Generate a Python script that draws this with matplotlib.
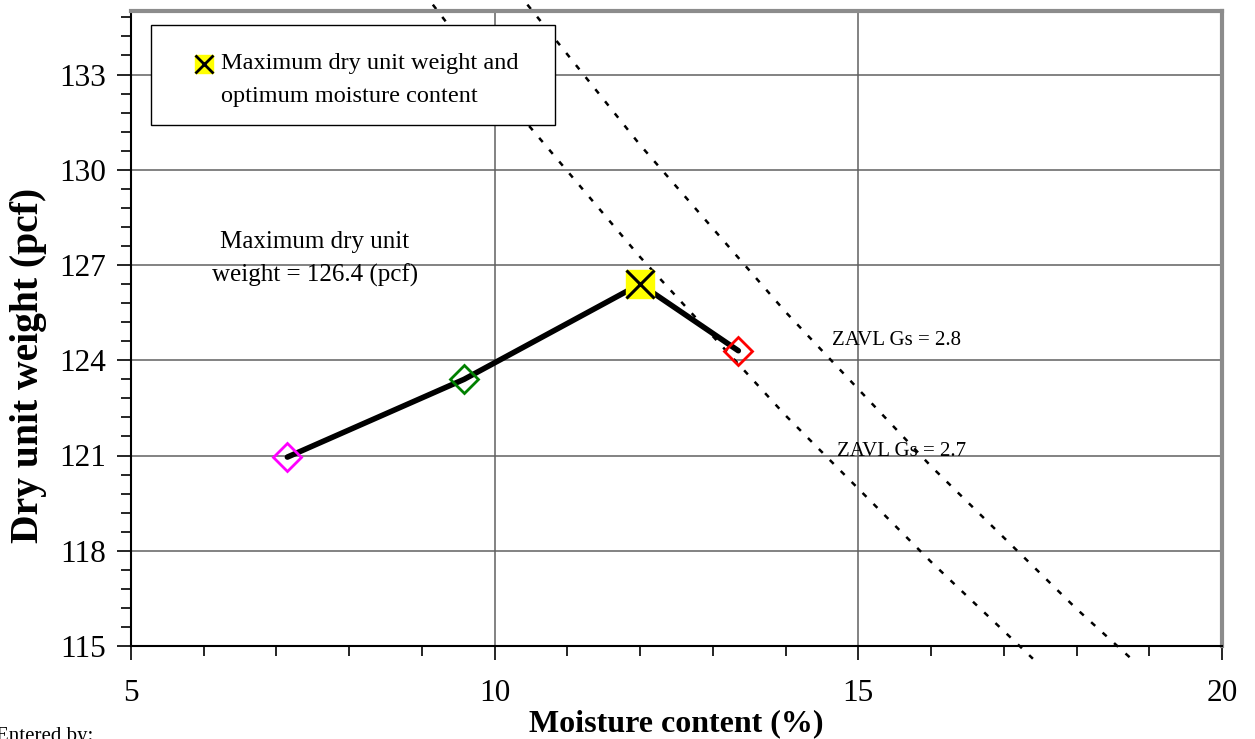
import numpy as np
import matplotlib.pyplot as plt
from matplotlib.patches import Rectangle

plt.rcParams['font.family'] = ['Liberation Serif', 'DejaVu Serif']

# compaction test points (moisture %, dry unit weight pcf)
moisture = [7.15, 9.58, 12.0, 13.35]
dry_weight = [120.95, 123.4, 126.4, 124.3]
point_colors = ['#FF00FF', '#008000', None, '#FF0000']

max_moisture = 12.0
max_dry = 126.4

# zero air voids lines
zavl27_w = [9.15, 10.0, 12.0, 14.0, 16.0, 17.4]
zavl27_y = [135.2, 132.66, 127.25, 122.26, 117.65, 114.6]
zavl28_w = [10.45, 12.0, 14.0, 16.0, 18.0, 18.8]
zavl28_y = [135.2, 130.78, 125.52, 120.66, 116.17, 114.5]

fig = plt.figure(figsize=(12.55, 7.39), dpi=100)
ax = fig.add_axes([131/1255, 1-646/739, 1091/1255, 635/739])

ax.set_xlim(5, 20)
ax.set_ylim(115, 135)
ax.set_xticks([5, 10, 15, 20])
ax.set_xticks(np.arange(5, 20, 1), minor=True)
ax.set_yticks([115, 118, 121, 124, 127, 130, 133])
ax.set_yticks(np.arange(115, 135.01, 0.6), minor=True)
ax.grid(True, which='major', color='#606060', lw=1.1)
ax.set_axisbelow(True)

ax.tick_params(which='major', direction='out', length=10, width=1.2, labelsize=22.5, pad=14, colors='black')
ax.tick_params(axis='y', which='major', pad=8)
ax.tick_params(which='minor', direction='out', length=7, width=1.2)

for s in ['left', 'bottom']:
    ax.spines[s].set_color('black')
    ax.spines[s].set_linewidth(1.5)
for s in ['top', 'right']:
    ax.spines[s].set_color('#8c8c8c')
    ax.spines[s].set_linewidth(3)

# ZAVL curves
ax.plot(zavl27_w, zavl27_y, color='black', lw=1.8, ls=(0, (2.2, 4)), clip_on=False, zorder=2)
ax.plot(zavl28_w, zavl28_y, color='black', lw=1.8, ls=(0, (2.2, 4)), clip_on=False, zorder=2)

# compaction curve
ax.plot(moisture, dry_weight, color='black', lw=4, zorder=3, solid_capstyle='round')
for x, y, c in zip(moisture, dry_weight, point_colors):
    if c is None:
        continue
    ax.plot(x, y, marker='D', ms=14.5, mfc='none', mec=c, mew=2, zorder=4)

ax.plot(max_moisture, max_dry, marker='s', ms=20, mfc='#FFFF00', mec='#FFFF00', zorder=5)
ax.plot(max_moisture, max_dry, marker='x', ms=20, mec='black', mew=2.2, zorder=6)

# legend box
ax.add_patch(Rectangle((0.0183, 0.8205), 0.3703, 0.1575, transform=ax.transAxes,
                       facecolor='white', edgecolor='black', lw=1, zorder=7))
ax.plot(0.0669, 0.9165, marker='s', ms=13, mfc='#FFFF00', mec='#FFFF00', transform=ax.transAxes, zorder=8)
ax.plot(0.0669, 0.9165, marker='x', ms=13, mec='black', mew=2, transform=ax.transAxes, zorder=9)
ax.text(0.0825, 0.8906, 'Maximum dry unit weight and\noptimum moisture content', transform=ax.transAxes,
        ha='left', va='center', fontsize=17.5, linespacing=1.75, zorder=9)

ax.text(7.53, 127.2, 'Maximum dry unit\nweight = 126.4 (pcf)', ha='center', va='center',
        multialignment='center', fontsize=18, linespacing=1.6)
ax.text(14.64, 124.62, 'ZAVL Gs = 2.8', ha='left', va='center', fontsize=15)
ax.text(14.71, 121.12, 'ZAVL Gs = 2.7', ha='left', va='center', fontsize=15)

ax.set_xlabel('Moisture content (%)', fontsize=23, fontweight='bold')
ax.xaxis.set_label_coords(0.5, -0.099)
ax.set_ylabel('Dry unit weight (pcf)', fontsize=28.5, fontweight='bold')
ax.yaxis.set_label_coords(-0.077, 0.4425)

fig.text(-0.003, 1-727/739, 'Entered by:', ha='left', va='top', fontsize=15)

fig.savefig('out.png', dpi=100)
